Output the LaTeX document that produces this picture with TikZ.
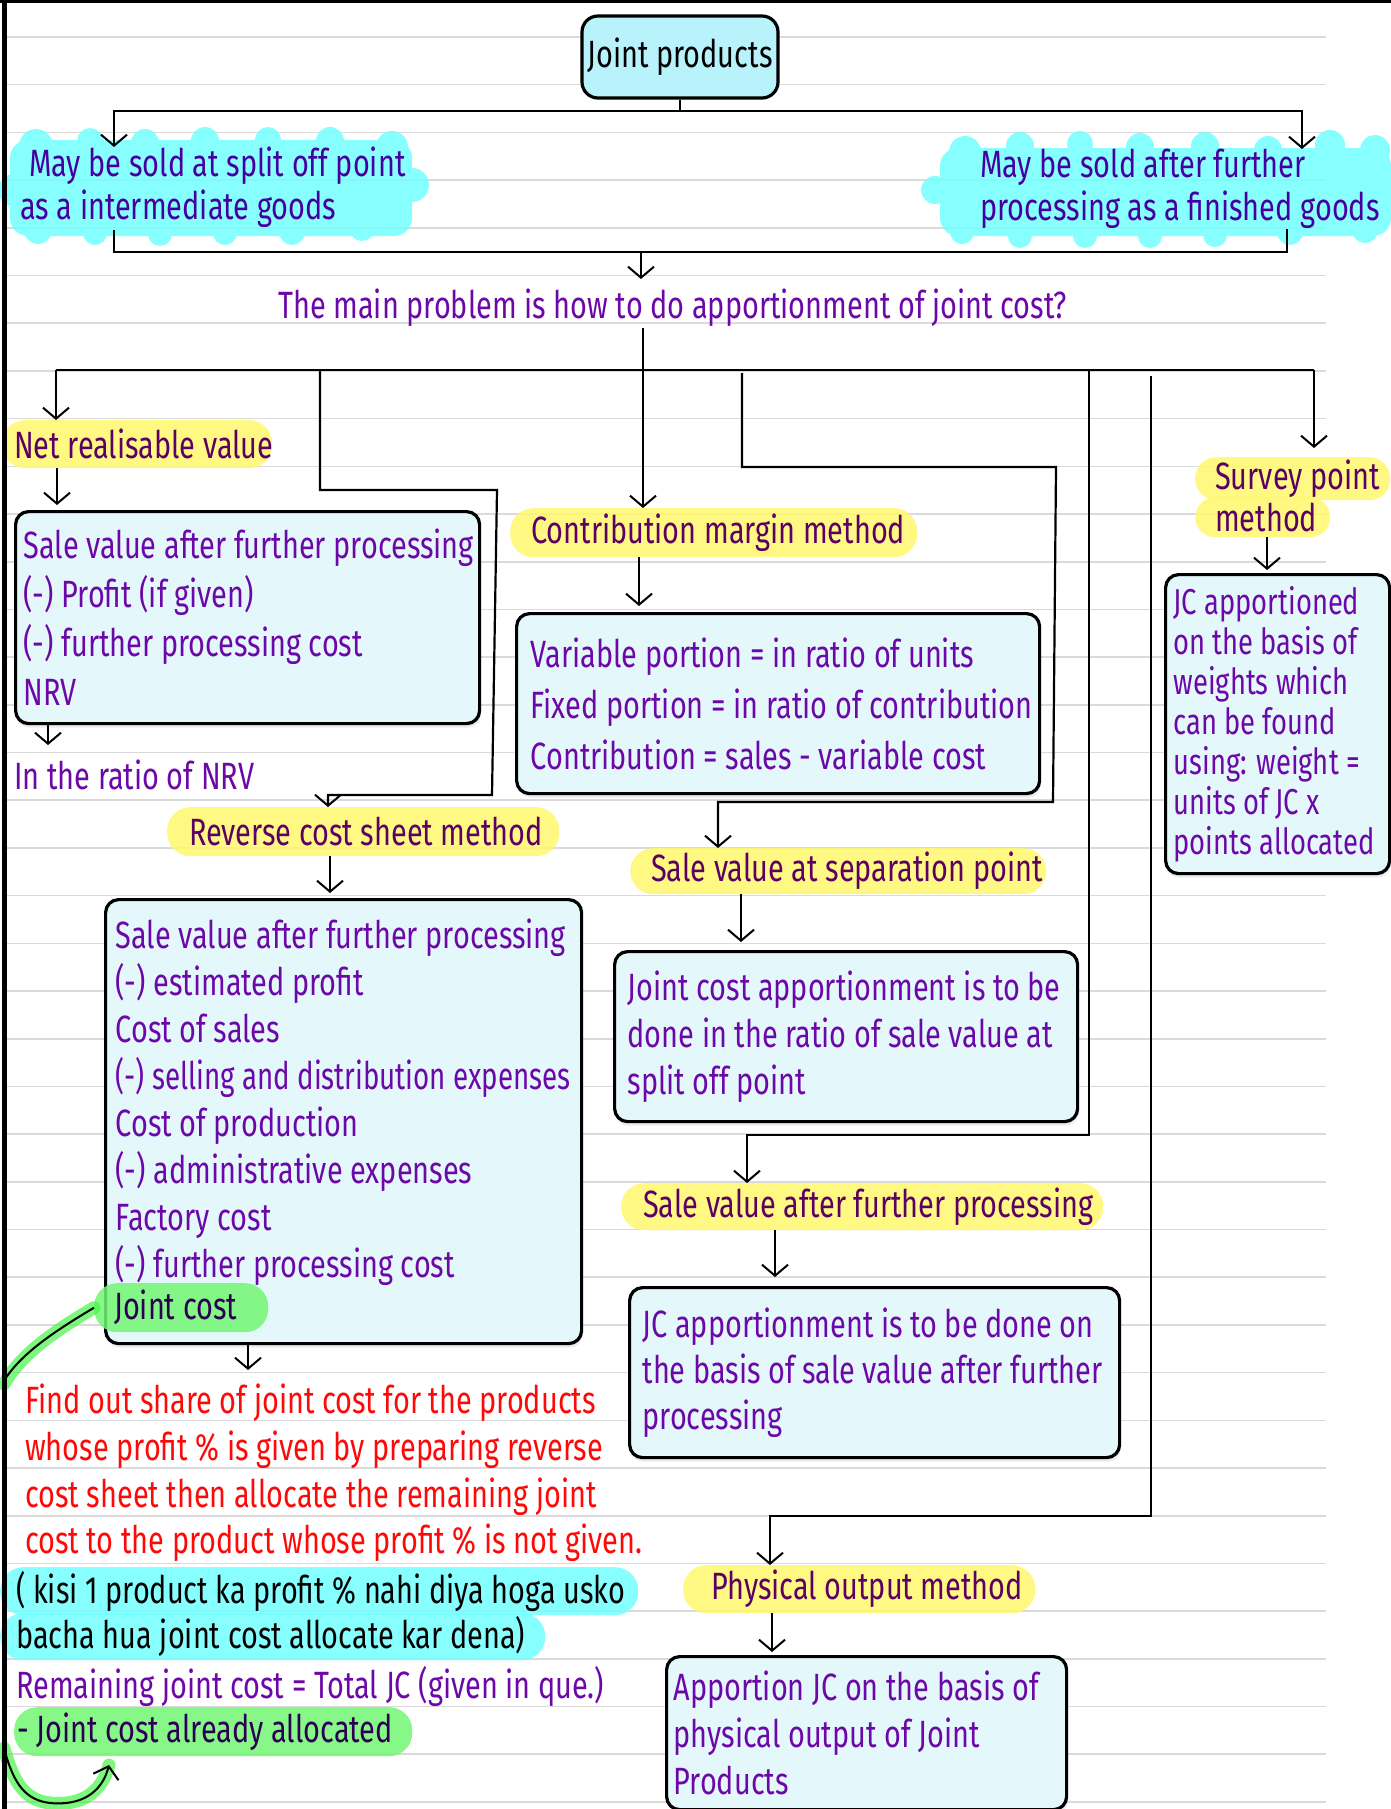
\documentclass[tikz,border=0pt]{standalone}
\usepackage{fontspec}
\usepackage{graphicx}
\setmainfont{Fira Sans}[FakeStretch=0.76]
\usetikzlibrary{arrows.meta,shadows}

\definecolor{inkpurple}{RGB}{108,8,168}
\definecolor{inkindigo}{RGB}{70,0,160}
\definecolor{inkplum}{RGB}{92,0,100}
\definecolor{inknavy}{RGB}{42,0,82}
\definecolor{inkred}{RGB}{255,8,8}
\definecolor{ruled}{RGB}{218,218,218}
\definecolor{cardfill}{RGB}{228,248,252}
\definecolor{titlefill}{RGB}{184,243,251}
\definecolor{markyellow}{RGB}{255,249,110}
\definecolor{markcyan}{RGB}{115,255,255}
\definecolor{markgreen}{RGB}{115,246,115}
\definecolor{glowgreen}{RGB}{70,245,70}

\newcommand\handsize[2]{\fontsize{#1}{#2}\selectfont}
% one unbreakable written line
\newcommand\wl[1]{\mbox{#1}}
% a written line squeezed a little to stay inside its card
\newcommand\wltight[1]{\scalebox{0.96}[1]{#1}}

\tikzset{
  conn/.style={line width=2.2pt, draw=black},
  arr/.style={conn, -{Straight Barb[length=11pt,width=26pt,line width=2pt]}},
  plainwords/.style={execute at begin node={\spaceskip=0pt\xspaceskip=0pt
    \hyphenpenalty=10000\exhyphenpenalty=10000\relax}},
  card/.style={draw=black, line width=3.2pt, fill=cardfill, rounded corners=13pt,
    anchor=north west, align=left, text=inkpurple, inner ysep=0pt, plainwords,
    drop shadow={opacity=0.16, shadow xshift=1pt, shadow yshift=-4pt}},
  hibase/.style={rounded corners=23pt, anchor=north west, align=left, inner ysep=0pt,
    fill opacity=0.85, text opacity=1, plainwords},
  hiyellow/.style={hibase, fill=markyellow, text=inkplum},
  hicyan/.style={hibase, fill=markcyan, text=black},
  higreen/.style={hibase, fill=markgreen, text=inknavy},
  freetext/.style={inner sep=0pt, text=inkpurple},
}

\begin{document}
\begin{tikzpicture}[x=1pt, y=-1pt, font=\handsize{38}{47}]
\useasboundingbox (0,0) rectangle (1391,1809);
\fill[white] (0,0) rectangle (1391,1809);

% ruled notebook lines
\foreach \k in {0,...,37}
  \draw[ruled, line width=1.6pt] (5,{37+47.7*\k}) -- (1326,{37+47.7*\k});

% cyan clouds behind the two ways of selling
\fill[markcyan, fill opacity=0.85, rounded corners=18pt]
  (10,140) -- (10,236) -- (412,236) -- (412,140) -- cycle
  (36,146) circle[radius=17pt] (90,141) circle[radius=13pt] (145,143) circle[radius=14pt]
  (205,141) circle[radius=14pt] (268,140) circle[radius=13pt] (330,141) circle[radius=14pt]
  (392,147) circle[radius=16pt] (412,185) circle[radius=17pt] (14,190) circle[radius=16pt]
  (38,230) circle[radius=14pt] (95,233) circle[radius=12pt] (160,234) circle[radius=12pt]
  (225,233) circle[radius=12pt] (292,232) circle[radius=13pt] (362,228) circle[radius=13pt];
\fill[markcyan, fill opacity=0.85, rounded corners=18pt]
  (940,148) -- (940,236) -- (1391,236) -- (1391,148) -- cycle
  (965,152) circle[radius=16pt] (1020,146) circle[radius=14pt] (1080,144) circle[radius=13pt]
  (1140,147) circle[radius=14pt] (1205,146) circle[radius=14pt] (1268,150) circle[radius=14pt]
  (1330,145) circle[radius=15pt] (1375,150) circle[radius=15pt] (935,190) circle[radius=14pt]
  (962,232) circle[radius=12pt] (1020,236) circle[radius=12pt] (1085,236) circle[radius=12pt]
  (1150,236) circle[radius=12pt] (1215,235) circle[radius=12pt] (1290,232) circle[radius=13pt]
  (1365,230) circle[radius=13pt];

% title and first split
\node[draw=black, line width=3.2pt, fill=titlefill, rounded corners=16pt, minimum width=196pt,
  minimum height=82pt, inner sep=0pt, font=\handsize{38}{46}] (jp) at (680,57) {Joint products};

\node[anchor=north west, inner sep=0pt, align=left, text=inkindigo, font=\handsize{38}{43}]
  (splitoff) at (20,147) {\hspace{9pt}May be sold at split off point\\as a intermediate goods};
\node[anchor=north west, inner sep=0pt, align=left, text=inkindigo, font=\handsize{38}{43}]
  (further) at (980,149) {May be sold after further\\processing as a finished goods};

\node[freetext, anchor=base west] (mainq) at (278,318)
  {The main problem is how to do apportionment of joint cost?};

% net realisable value
\node[hiyellow, text width=246pt, inner xsep=12pt, minimum height=48pt] (nrvhl) at (2,420)
  {\wl{Net realisable value}};
\node[card, text width=448pt, inner xsep=8pt, minimum height=212pt, font=\handsize{38}{49}]
  (nrvbox) at (14,510)
  {\wl{Sale value after further processing}\\\wl{(-) Profit (if given)}\\
   \wl{(-) further processing cost}\\NRV};
\node[freetext, anchor=base west] (ratio) at (14,789) {In the ratio of NRV};

% reverse cost sheet
\node[hiyellow, text width=348pt, inner xsep=22pt, minimum height=49pt] (revhl) at (167,807)
  {\wl{Reverse cost sheet method}};
\node[card, text width=456pt, inner xsep=10pt, minimum height=444pt, font=\handsize{38}{47}]
  (revbox) at (104,898)
  {\wl{Sale value after further processing}\\\wl{(-) estimated profit}\\\wl{Cost of sales}\\
   \wltight{(-) selling and distribution expenses}\\\wl{Cost of production}\\
   \wl{(-) administrative expenses}\\\wl{Factory cost}\\\wl{(-) further processing cost}\\\mbox{}};
\node[higreen, text width=134pt, inner xsep=20pt, minimum height=49pt] (jchl) at (94,1283)
  {\wl{Joint cost}};

\node[freetext, anchor=north west, text=inkred, align=left, font=\handsize{38}{46.7}]
  (redtxt) at (25,1384)
  {Find out share of joint cost for the products\\whose profit \% is given by preparing reverse\\
   cost sheet then allocate the remaining joint\\cost to the product whose profit \% is not given.};

\node[hicyan, text width=606pt, inner xsep=16pt, minimum height=48pt] (kisia) at (0,1567)
  {\wl{( kisi 1 product ka profit \% nahi diya hoga usko}};
\node[hicyan, text width=513pt, inner xsep=16pt, minimum height=47pt] (kisib) at (0,1613)
  {\wl{bacha hua joint cost allocate kar dena)}};
\node[freetext, anchor=base west] (remain) at (16,1698)
  {Remaining joint cost = Total JC (given in que.)};
\node[higreen, text width=392pt, inner xsep=3pt, minimum height=49pt] (already) at (14,1707)
  {\wl{- Joint cost already allocated}};

% contribution margin
\node[hiyellow, text width=365pt, inner xsep=21pt, minimum height=49pt] (cmhl) at (510,508)
  {\wl{Contribution margin method}};
\node[card, text width=495pt, inner xsep=14pt, minimum height=180pt, font=\handsize{38}{51}]
  (cmbox) at (515,612)
  {\wl{Variable portion = in ratio of units}\\\wl{Fixed portion = in ratio of contribution}\\
   \wl{Contribution = sales - variable cost}};

% sale value at separation point
\node[hiyellow, text width=374pt, inner xsep=21pt, minimum height=46pt] (sephl) at (630,848)
  {\wl{Sale value at separation point}};
\node[card, text width=437pt, inner xsep=13pt, minimum height=170pt, font=\handsize{38}{47}]
  (sepbox) at (613,950)
  {\wl{Joint cost apportionment is to be}\\\wl{done in the ratio of sale value at}\\\wl{split off point}};

% sale value after further processing
\node[hiyellow, text width=438pt, inner xsep=22pt, minimum height=47pt] (svhl) at (621,1183)
  {\wl{Sale value after further processing}};
\node[card, text width=464pt, inner xsep=13pt, minimum height=170pt, font=\handsize{38}{46}]
  (jcbox) at (628,1286)
  {\wl{JC apportionment is to be done on}\\\wl{the basis of sale value after further}\\\wl{processing}};

% physical output
\node[hiyellow, text width=296pt, inner xsep=28pt, minimum height=48pt] (phhl) at (683,1565)
  {\wl{Physical output method}};
\node[card, text width=386pt, inner xsep=7pt, minimum height=153pt, font=\handsize{38}{47}]
  (phbox) at (665,1655)
  {\wl{Apportion JC on the basis of}\\\wl{physical output of Joint}\\\wl{Products}};

% survey point
\node[hiyellow, text width=155pt, inner xsep=20pt, minimum height=43pt, rounded corners=21pt]
  (svya) at (1195,457) {\wl{Survey point}};
\node[hiyellow, text width=95pt, inner xsep=20pt, minimum height=40pt, rounded corners=20pt]
  (svyb) at (1195,497) {\wl{method}};
\node[card, text width=208pt, inner xsep=8pt, minimum height=299pt, font=\handsize{36}{40}]
  (svybox) at (1164,573)
  {\wl{JC apportioned}\\\wl{on the basis of}\\\wl{weights which}\\\wl{can be found}\\
   \wl{using: weight =}\\\wl{units of JC x}\\\wl{points allocated}};

% connector points
\coordinate (busW) at (56,370);
\coordinate (busE) at (1314,370);
\coordinate (qDrop) at (643,328);
\coordinate (soB) at (114,230);
\coordinate (fuB) at (1287,229);
\coordinate (joinMid) at (641,252);
\coordinate (tipQ) at (641,279);
\coordinate (tipRatio) at (48,745);
\coordinate (tipRed) at (248,1370);
\coordinate (tipAlloc) at (109,1765);

% top split
\draw[arr] (jp.south) |- (114,111) -- (splitoff.north -| 114,0);
\draw[arr] (jp.south) |- (1302,111) -- (further.north -| 1302,0);
\draw[conn] (soB) |- (fuB |- 0,252) -- (fuB);
\draw[arr] (joinMid) -- (tipQ);

% distribution bus
\draw[conn] (busW) -- (busE);
\draw[arr] (busW) -- (nrvhl.north -| busW);
\draw[arr] (qDrop) -- (cmhl.north -| qDrop);
\draw[arr] (busE) -- (1314,448);
\draw[arr] (320,370) -- (320,490) -- (497,490) -- (492,795) -- (328,795) -- (revhl.north -| 328,0);
\draw[arr] (742,373) -- (742,467) -- (1056,467) -- (1053,802) -- (718,802) -- (sephl.north -| 718,0);
\draw[arr] (1089,370) -- (1089,1135) -- (747,1135) -- (svhl.north -| 747,0);
\draw[arr] (1151,376) -- (1151,1516) -- (770,1516) -- (phhl.north -| 770,0);

% steps inside each method
\draw[arr, shorten >=5pt] (nrvhl.south -| 57,0) -- (nrvbox.north -| 57,0);
\draw[arr] (nrvbox.south -| 48,0) -- (tipRatio);
\draw[arr, shorten >=5pt] (revhl.south -| 330,0) -- (revbox.north -| 330,0);
\draw[arr] (revbox.south -| 248,0) -- (tipRed);
\draw[arr, shorten >=6pt] (cmhl.south -| 639,0) -- (cmbox.north -| 639,0);
\draw[arr, shorten >=8pt] (sephl.south -| 741,0) -- (sepbox.north -| 741,0);
\draw[arr, shorten >=9pt] (svhl.south -| 775,0) -- (jcbox.north -| 775,0);
\draw[arr, shorten >=3pt] (phhl.south -| 772,0) -- (phbox.north -| 772,0);
\draw[arr, shorten >=3pt] (svyb.south -| 1267,0) -- (svybox.north -| 1267,0);

% green reminder loop from joint cost to the allocated line
\draw[glowgreen, line width=13pt, line cap=round, opacity=0.7]
  (jchl.west) .. controls (60,1328) and (22,1352) .. (4,1384);
\draw[glowgreen, line width=13pt, line cap=round, opacity=0.7]
  (4,1748) .. controls (14,1785) and (26,1800) .. (50,1803) .. controls (82,1806) and (102,1792) .. (tipAlloc);
\draw[arr, line width=2pt]
  (jchl.west) .. controls (60,1328) and (22,1352) .. (4.5,1380) -- (4.5,1750)
  .. controls (14,1785) and (26,1800) .. (50,1803) .. controls (82,1806) and (102,1792) .. (tipAlloc);

% page borders
\draw[black, line width=3pt] (0,1.5) -- (1391,1.5);
\draw[black, line width=5pt] (4.5,0) -- (4.5,1809);
\end{tikzpicture}
\end{document}
